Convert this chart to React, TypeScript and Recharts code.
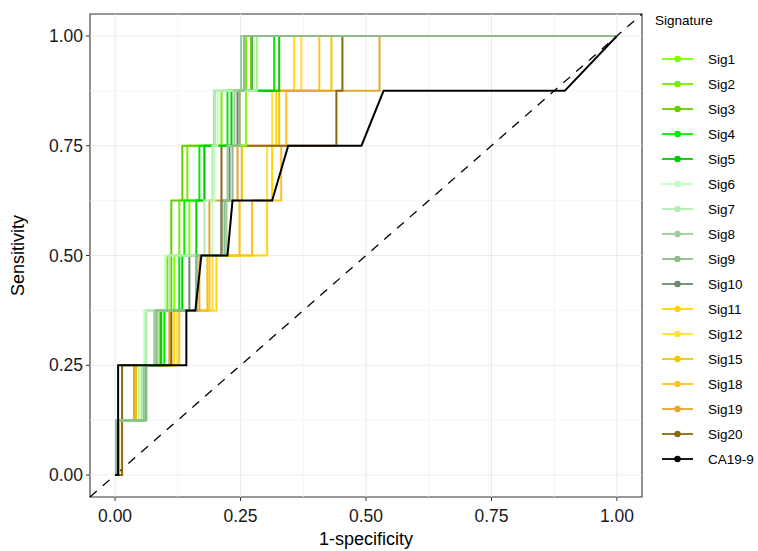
import React from "react";
import { LineChart, Line, XAxis, YAxis, ReferenceLine, ReferenceArea } from "recharts";

// sensitivity levels (8 positive cases)
const sensLevels = [0, 0.125, 0.25, 0.375, 0.5, 0.625, 0.75, 0.875, 1];
const majorTicks = [0, 0.25, 0.5, 0.75, 1];
const minorTicks = [0.125, 0.375, 0.625, 0.875];

const sigNames = ["Sig1", "Sig2", "Sig3", "Sig4", "Sig5", "Sig6", "Sig7", "Sig8", "Sig9", "Sig10",
  "Sig11", "Sig12", "Sig15", "Sig18", "Sig19", "Sig20"];
const sigColors = ["#7FFF00", "#76EE00", "#66CD00", "#00EE00", "#00CD00", "#C1FFC1", "#B4EEB4", "#9BCD9B",
  "#8FBC8F", "#698B69", "#FFD700", "#FFE135", "#EEC900", "#FFC125", "#E3A82B", "#8B6914"];

// 1-specificity where each curve steps up to the next sensitivity level
const sig1Steps = [0.002, 0.054, 0.084, 0.118, 0.148, 0.178, 0.261, 0.283];
const sig2Steps = [0.002, 0.048, 0.062, 0.104, 0.128, 0.144, 0.212, 0.261];
const sig3Steps = [0.002, 0.058, 0.090, 0.112, 0.112, 0.134, 0.198, 0.271];
const sig4Steps = [0.002, 0.054, 0.098, 0.128, 0.138, 0.168, 0.224, 0.317];
const sig5Steps = [0.002, 0.058, 0.092, 0.134, 0.162, 0.178, 0.232, 0.327];
const sig6Steps = [0.002, 0.048, 0.058, 0.100, 0.194, 0.198, 0.204, 0.277];
const sig7Steps = [0.002, 0.054, 0.062, 0.108, 0.178, 0.194, 0.198, 0.283];
const sig8Steps = [0.002, 0.058, 0.078, 0.162, 0.222, 0.224, 0.238, 0.251];
const sig9Steps = [0.002, 0.062, 0.082, 0.162, 0.218, 0.234, 0.248, 0.257];
const sig10Steps = [0.002, 0.062, 0.084, 0.148, 0.212, 0.228, 0.244, 0.273];
const sig11Steps = [0.008, 0.038, 0.118, 0.202, 0.303, 0.313, 0.321, 0.357];
const sig12Steps = [0.008, 0.042, 0.124, 0.194, 0.273, 0.303, 0.313, 0.371];
const sig15Steps = [0.006, 0.042, 0.112, 0.184, 0.248, 0.253, 0.327, 0.431];
const sig18Steps = [0.008, 0.038, 0.128, 0.188, 0.273, 0.331, 0.341, 0.407];
const sig19Steps = [0.004, 0.038, 0.108, 0.168, 0.188, 0.244, 0.248, 0.527];
const sig20Steps = [0.014, 0.014, 0.112, 0.162, 0.212, 0.212, 0.441, 0.453];

const sigSteps = [sig1Steps, sig2Steps, sig3Steps, sig4Steps, sig5Steps, sig6Steps, sig7Steps, sig8Steps,
  sig9Steps, sig10Steps, sig11Steps, sig12Steps, sig15Steps, sig18Steps, sig19Steps, sig20Steps];

// CA19-9 has tied values, so it is given as explicit points
const ca199Fpr = [0, 0.006, 0.006, 0.142, 0.142, 0.160, 0.172, 0.224, 0.234, 0.313, 0.345, 0.491, 0.535, 0.896, 1];
const ca199Tpr = [0, 0, 0.25, 0.25, 0.375, 0.375, 0.5, 0.5, 0.625, 0.625, 0.75, 0.75, 0.875, 0.875, 1];

function stepCurve(rises: number[]) {
  const pts = [{ x: 0, y: 0 }];
  rises.forEach((r, k) => {
    pts.push({ x: r, y: sensLevels[k] });
    pts.push({ x: r, y: sensLevels[k + 1] });
  });
  pts.push({ x: 1, y: 1 });
  return pts;
}

const curves = sigNames.map((name, i) => ({ name, color: sigColors[i], data: stepCurve(sigSteps[i]) }));
const ca199 = ca199Fpr.map((x, i) => ({ x, y: ca199Tpr[i] }));

// yellows underneath, greens on top
const drawOrder = [10, 11, 12, 13, 14, 15, 9, 0, 1, 2, 3, 4, 5, 6, 7, 8];

const font = '"Liberation Sans", Arial, Helvetica, sans-serif';

export default function App() {
  const legendItems = [...curves.map((c) => ({ name: c.name, color: c.color })), { name: "CA19-9", color: "#000000" }];
  return (
    <div style={{ position: "absolute", left: 0, top: 0, width: 758, height: 551, background: "#fff", fontFamily: font }}>
      <LineChart width={758} height={551} margin={{ top: 14, right: 116, bottom: 0, left: 0 }}>
        {minorTicks.map((v) => (
          <ReferenceLine key={"mx" + v} x={v} stroke="#F3F3F3" strokeWidth={0.8} />
        ))}
        {minorTicks.map((v) => (
          <ReferenceLine key={"my" + v} y={v} stroke="#F3F3F3" strokeWidth={0.8} />
        ))}
        {majorTicks.map((v) => (
          <ReferenceLine key={"gx" + v} x={v} stroke="#EBEBEB" strokeWidth={1.1} />
        ))}
        {majorTicks.map((v) => (
          <ReferenceLine key={"gy" + v} y={v} stroke="#EBEBEB" strokeWidth={1.1} />
        ))}
        <XAxis
          dataKey="x"
          type="number"
          domain={[-0.05, 1.05]}
          allowDataOverflow
          ticks={majorTicks}
          tickFormatter={(v: number) => v.toFixed(2)}
          height={54}
          axisLine={false}
          tickSize={4}
          tickMargin={9}
          tickLine={{ stroke: "#333333" }}
          tick={{ fill: "#1A1A1A", fontSize: 17.5, fontFamily: font }}
          label={{ value: "1-specificity", position: "insideBottom", offset: 6, fill: "#000", fontSize: 18, fontFamily: font }}
        />
        <YAxis
          dataKey="y"
          type="number"
          domain={[-0.05, 1.05]}
          allowDataOverflow
          ticks={majorTicks}
          tickFormatter={(v: number) => v.toFixed(2)}
          width={90}
          axisLine={false}
          tickSize={4}
          tickMargin={3}
          tickLine={{ stroke: "#333333" }}
          tick={{ fill: "#1A1A1A", fontSize: 17.5, fontFamily: font }}
          label={{ value: "Sensitivity", angle: -90, position: "insideLeft", offset: 18, fill: "#000", fontSize: 18, fontFamily: font, style: { textAnchor: "middle" } }}
        />
        <ReferenceLine
          segment={[{ x: -0.05, y: -0.05 }, { x: 1.05, y: 1.05 }]}
          stroke="#000"
          strokeWidth={1.3}
          strokeDasharray="9 8"
        />
        {drawOrder.map((i) => (
          <Line
            key={curves[i].name}
            data={curves[i].data}
            dataKey="y"
            type="linear"
            stroke={curves[i].color}
            strokeWidth={2}
            dot={false}
            isAnimationActive={false}
          />
        ))}
        <Line data={ca199} dataKey="y" type="linear" stroke="#000" strokeWidth={2} dot={false} isAnimationActive={false} />
        <ReferenceArea x1={-0.05} x2={1.05} y1={-0.05} y2={1.05} fill="none" stroke="#333333" strokeWidth={1.1} />
      </LineChart>
      <svg width={118} height={551} style={{ position: "absolute", left: 640, top: 0 }}>
        <text x={15} y={25} fontSize={13.5} fontFamily={font} fill="#000">Signature</text>
        {legendItems.map((it, i) => {
          const cy = 59 + i * 25;
          return (
            <g key={it.name}>
              <line x1={22} x2={53} y1={cy} y2={cy} stroke={it.color} strokeWidth={1.8} />
              <circle cx={37.5} cy={cy} r={3.2} fill={it.color} />
              <text x={68} y={cy + 5} fontSize={13.5} fontFamily={font} fill="#000">{it.name}</text>
            </g>
          );
        })}
      </svg>
    </div>
  );
}
